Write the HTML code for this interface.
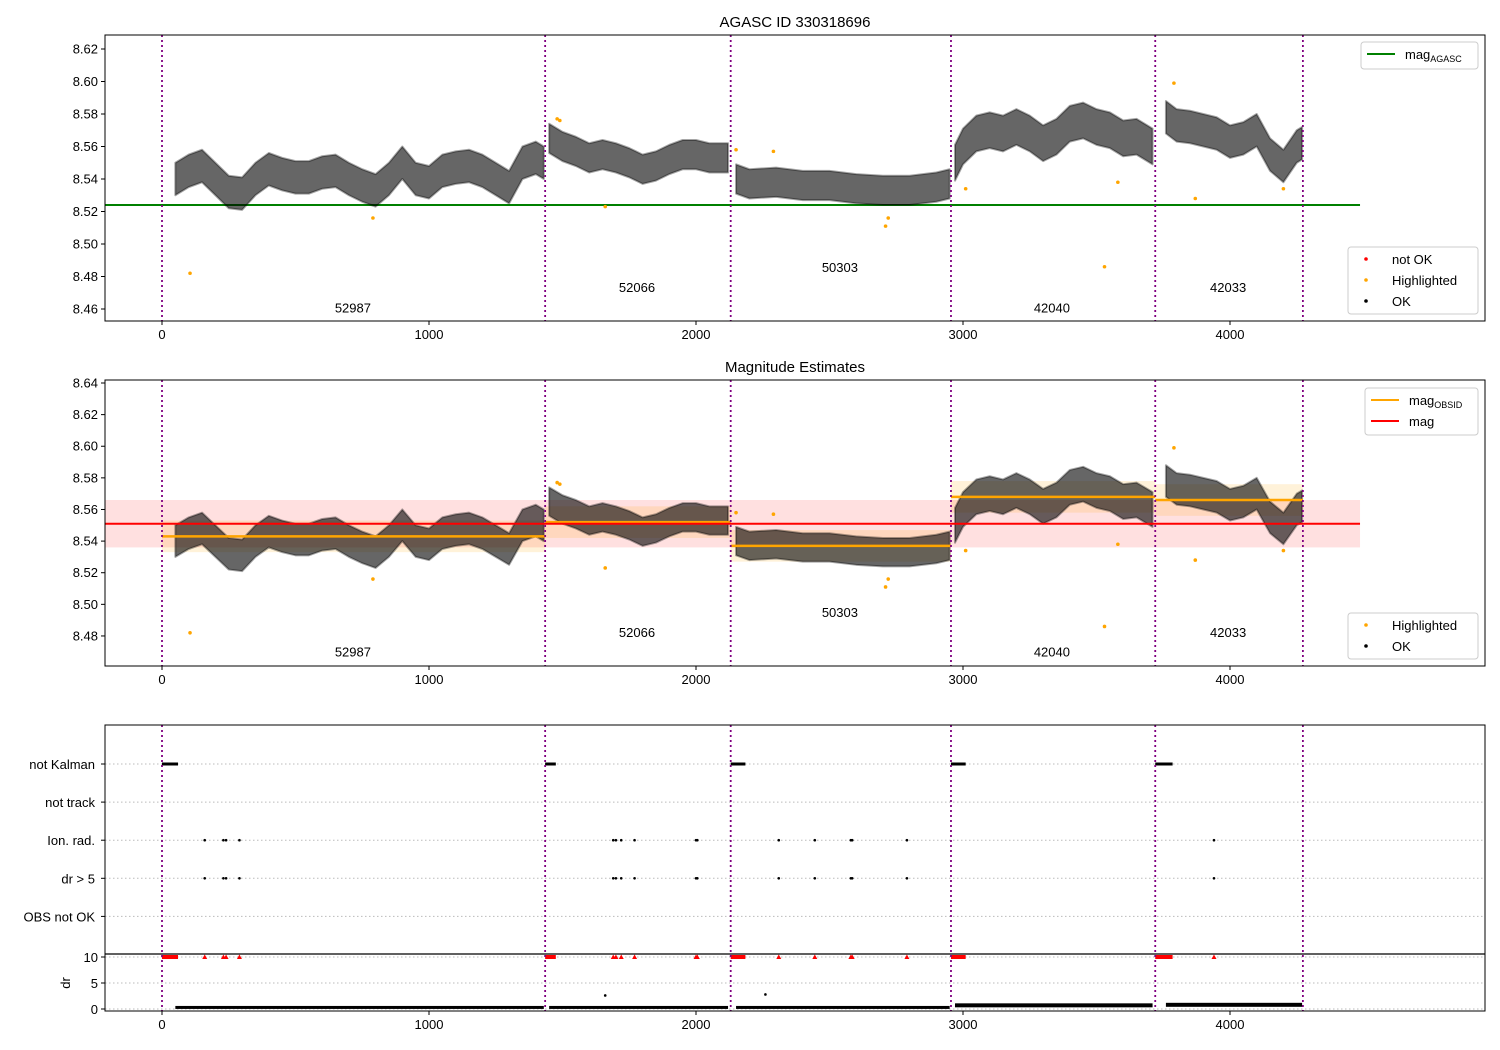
<!DOCTYPE html>
<html><head><meta charset="utf-8"><style>
body{margin:0;background:#fff;}
svg{display:block;font-family:"Liberation Sans","DejaVu Sans",sans-serif;}
</style></head><body>
<svg id="c" width="1500" height="1050" xmlns="http://www.w3.org/2000/svg"></svg>
<script>
// ---- data ----
const obsids = ["52987","52066","50303","42040","42033"];
const obsBounds = [0,1435,2130,2955,3720,4273];
const obsLabelX = [715,1779,2539,3333,3993];
const obsMag = [8.543,8.552,8.537,8.568,8.566];
const agascMag = 8.524;
const starMag = 8.551, starMagErr = 0.015;
const seg1X=[50,100,150,200,250,300,350,400,450,500,550,600,650,700,750,800,850,900,950,1000,1050,1100,1150,1200,1250,1300,1350,1400,1430];
const seg1M=[8.540,8.545,8.548,8.540,8.532,8.531,8.540,8.546,8.543,8.541,8.541,8.544,8.545,8.540,8.536,8.533,8.540,8.550,8.540,8.538,8.545,8.547,8.548,8.545,8.540,8.535,8.550,8.553,8.550];
const seg2X=[1450,1500,1550,1600,1650,1700,1750,1800,1850,1900,1950,2000,2050,2120];
const seg2M=[8.565,8.560,8.557,8.553,8.555,8.553,8.550,8.546,8.548,8.552,8.555,8.555,8.553,8.553];
const seg3X=[2150,2200,2300,2400,2500,2600,2700,2800,2900,2950];
const seg3M=[8.540,8.537,8.538,8.536,8.536,8.534,8.533,8.533,8.535,8.537];
const seg4X=[2970,3000,3050,3100,3150,3200,3250,3300,3350,3400,3450,3500,3550,3600,3650,3710];
const seg4M=[8.550,8.560,8.568,8.570,8.568,8.572,8.568,8.562,8.566,8.574,8.576,8.572,8.570,8.565,8.566,8.560];
const seg5X=[3760,3800,3850,3900,3950,4000,4050,4100,4150,4200,4250,4270];
const seg5M=[8.578,8.573,8.572,8.570,8.568,8.563,8.565,8.570,8.555,8.548,8.560,8.562];
const segSpread=[0.010,0.009,0.009,0.011,0.010];
const hlX=[105,790,1480,1490,1660,2150,2290,2710,2720,3010,3530,3580,3790,3870,4200];
const hlY=[8.482,8.516,8.577,8.576,8.523,8.558,8.557,8.511,8.516,8.534,8.486,8.538,8.599,8.528,8.534];
const kalmanStart=[0,1435,2130,2955,3720];
const kalmanEnd=[60,1475,2185,3010,3785];
const ionX=[160,230,240,290,1690,1700,1720,1770,2000,2005,2310,2445,2580,2585,2790,3940];
const drLevel=[0.3,0.3,0.3,0.8,0.9];
const flagLabels=["not Kalman","not track","Ion. rad.","dr > 5","OBS not OK"];
const xTicks=[0,1000,2000,3000,4000];
const y1Ticks=[8.46,8.48,8.50,8.52,8.54,8.56,8.58,8.60,8.62];
const y2Ticks=[8.48,8.50,8.52,8.54,8.56,8.58,8.60,8.62,8.64];
const drTicks=[0,5,10];
const segX=[seg1X,seg2X,seg3X,seg4X,seg5X], segM=[seg1M,seg2M,seg3M,seg4M,seg5M];

// ---- helpers ----
const svg=document.getElementById('c');
const NS='http://www.w3.org/2000/svg';
function el(t,a,p){const e=document.createElementNS(NS,t);for(const k in a)e.setAttribute(k,a[k]);(p||svg).appendChild(e);return e;}
const L=105,R=1485;
const X=v=>162+v*0.267;
const P1={top:35,bot:321,y:v=>49+(8.62-v)*1625};
const P2={top:380,bot:666,y:v=>383+(8.64-v)*1581};
const flagY=i=>764+i*38.1;
const drY=v=>1009-v*5.2;
const XEND=4487;

function panel(name){
  const g=el('g',{});
  
  
  return g;
}
function axesFrame(g,top,bot){
  el('rect',{x:L,y:top,width:R-L,height:bot-top,fill:'none',stroke:'#000','stroke-width':1},g);
  xTicks.forEach(t=>{
    el('line',{x1:X(t),x2:X(t),y1:bot,y2:bot+4,stroke:'#000'},g);
    const tx=el('text',{x:X(t),y:bot+18,'text-anchor':'middle','font-size':13},g);tx.textContent=t;
  });
}
function vlines(g,top,bot){
  obsBounds.forEach(b=>{
    const l=el('line',{x1:X(b),x2:X(b),y1:top,y2:bot,stroke:'#800080','stroke-width':1.8,'stroke-dasharray':'2,3'},g);
    
    
  });
}
function yTicksDraw(g,ticks,Y){
  ticks.forEach(t=>{
    el('line',{x1:L-4,x2:L,y1:Y(t),y2:Y(t),stroke:'#000'},g);
    const tx=el('text',{x:L-7,y:Y(t)+4.5,'text-anchor':'end','font-size':13},g);tx.textContent=t.toFixed(2);
  });
}
function cloud(g,Y){
  segX.forEach((xs,s)=>{
    const sp=segSpread[s];
    let d='M'+xs.map((x,i)=>X(x)+','+Y(segM[s][i]+sp)).join('L');
    for(let i=xs.length-1;i>=0;i--)d+='L'+X(xs[i])+','+Y(segM[s][i]-sp);
    const p=el('path',{d:d+'Z',fill:'#000','fill-opacity':0.6,stroke:'#000','stroke-width':2,'stroke-opacity':0.35,'stroke-linejoin':'round'},g);
    
    
  });
  hlX.forEach((x,i)=>{
    const c=el('circle',{cx:X(x),cy:Y(hlY[i]),r:1.8,fill:'orange'},g);
    
    
  });
}
function obsLabels(g,Y,vals){
  obsids.forEach((o,i)=>{
    const t=el('text',{x:X(obsLabelX[i]),y:Y(vals[i]),'text-anchor':'middle','font-size':13},g);
    t.textContent=o;
    
    
  });
}
function legend(g,x,y,w,h,items){
  const r=el('rect',{x:x,y:y,width:w,height:h,fill:'#fff',stroke:'#ccc',rx:3},g);
  
  
  items.forEach((it,i)=>{
    const yy=y+12+i*21;
    if(it.type==='line')el('line',{x1:x+6,x2:x+34,y1:yy,y2:yy,stroke:it.c,'stroke-width':2},g);
    else el('circle',{cx:x+18,cy:yy,r:1.8,fill:it.c},g);
    const t=el('text',{x:x+44,y:yy+5,'font-size':13},g);
    t.innerHTML=it.t;
    
    
  });
}

// ---- panel 1 ----
const g1=panel('agasc-panel');
let t=el('text',{x:795,y:27,'text-anchor':'middle','font-size':15},g1);t.textContent='AGASC ID 330318696';

el('line',{x1:L,x2:X(XEND),y1:P1.y(agascMag),y2:P1.y(agascMag),stroke:'green','stroke-width':2},g1);
cloud(g1,P1.y);
vlines(g1,P1.top,P1.bot);
obsLabels(g1,P1.y,[8.458,8.4705,8.4828,8.458,8.4705]);
axesFrame(g1,P1.top,P1.bot);yTicksDraw(g1,y1Ticks,P1.y);
legend(g1,1361,42,117,27,[{type:'line',c:'green',t:'mag<tspan font-size="9" dy="3">AGASC</tspan>'}]);
legend(g1,1348,247,130,67,[{c:'red',t:'not OK'},{c:'orange',t:'Highlighted'},{c:'black',t:'OK'}]);

// ---- panel 2 ----
const g2=panel('magnitude-panel');
t=el('text',{x:795,y:372,'text-anchor':'middle','font-size':15},g2);t.textContent='Magnitude Estimates';

el('rect',{x:L,y:P2.y(starMag+starMagErr),width:X(XEND)-L,height:P2.y(starMag-starMagErr)-P2.y(starMag+starMagErr),fill:'red','fill-opacity':0.12},g2);
obsMag.forEach((m,i)=>{
  el('rect',{x:X(obsBounds[i]),y:P2.y(m+0.01),width:X(obsBounds[i+1])-X(obsBounds[i]),height:P2.y(m-0.01)-P2.y(m+0.01),fill:'orange','fill-opacity':0.15},g2);
});
cloud(g2,P2.y);
obsMag.forEach((m,i)=>{
  const l=el('line',{x1:X(obsBounds[i]),x2:X(obsBounds[i+1]),y1:P2.y(m),y2:P2.y(m),stroke:'orange','stroke-width':2.5},g2);
  
});
el('line',{x1:L,x2:X(XEND),y1:P2.y(starMag),y2:P2.y(starMag),stroke:'red','stroke-width':2},g2);
vlines(g2,P2.top,P2.bot);
obsLabels(g2,P2.y,[8.467,8.4795,8.492,8.467,8.4795]);
axesFrame(g2,P2.top,P2.bot);yTicksDraw(g2,y2Ticks,P2.y);
legend(g2,1365,388,113,47,[{type:'line',c:'orange',t:'mag<tspan font-size="9" dy="3">OBSID</tspan>'},{type:'line',c:'red',t:'mag'}]);
legend(g2,1348,613,130,46,[{c:'orange',t:'Highlighted'},{c:'black',t:'OK'}]);

// ---- panel 3 ----
const g3=panel('flags-panel');
flagLabels.forEach((f,i)=>{
  el('line',{x1:L,x2:R,y1:flagY(i),y2:flagY(i),stroke:'#bbb','stroke-dasharray':'1.5,2.5'},g3);
  const tx=el('text',{x:L-10,y:flagY(i)+5,'text-anchor':'end','font-size':13},g3);tx.textContent=f;
  el('line',{x1:L-4,x2:L,y1:flagY(i),y2:flagY(i),stroke:'#000'},g3);
});
drTicks.forEach(d=>{
  el('line',{x1:L,x2:R,y1:drY(d),y2:drY(d),stroke:'#bbb','stroke-dasharray':'1.5,2.5'},g3);
  el('line',{x1:L-4,x2:L,y1:drY(d),y2:drY(d),stroke:'#000'},g3);
  const tx=el('text',{x:L-7,y:drY(d)+5,'text-anchor':'end','font-size':13},g3);tx.textContent=d;
});
t=el('text',{x:0,y:0,'font-size':13,'text-anchor':'middle',transform:'translate(70,983) rotate(-90)'},g3);t.textContent='dr';
kalmanStart.forEach((s,i)=>{
  const r=el('rect',{x:X(s),y:flagY(0)-1.5,width:X(kalmanEnd[i])-X(s),height:3,fill:'#000'},g3);
  
  const r2=el('rect',{x:X(s),y:drY(10)-2,width:X(kalmanEnd[i])-X(s),height:4,fill:'red'},g3);
  
});
ionX.forEach(x=>{
  el('circle',{cx:X(x),cy:flagY(2),r:1.3,fill:'#000'},g3);
  el('circle',{cx:X(x),cy:flagY(3),r:1.3,fill:'#000'},g3);
  const m=el('path',{d:`M${X(x)-2.5},${drY(10)+2}L${X(x)+2.5},${drY(10)+2}L${X(x)},${drY(10)-2.5}Z`,fill:'red'},g3);
  
});
segX.forEach((xs,s)=>{
  const r=el('rect',{x:X(xs[0]),y:drY(drLevel[s])-1.5,width:X(xs[xs.length-1])-X(xs[0]),height:drLevel[s]>0.5?4:3,fill:'#000'},g3);
  
});
el('circle',{cx:X(1660),cy:drY(2.6),r:1.3,fill:'#000'},g3);
el('circle',{cx:X(2260),cy:drY(2.8),r:1.3,fill:'#000'},g3);
obsBounds.forEach(b=>{
  el('line',{x1:X(b),x2:X(b),y1:725,y2:1011,stroke:'#800080','stroke-width':1.8,'stroke-dasharray':'2,3'},g3);
});
el('line',{x1:L,x2:R,y1:954,y2:954,stroke:'#000','stroke-width':1.2},g3);
axesFrame(g3,725,1011);
</script>
</body></html>
